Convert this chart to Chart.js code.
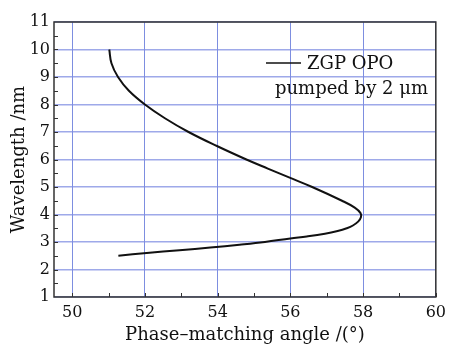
<!DOCTYPE html>
<html>
<head>
<meta charset="utf-8">
<script src="https://cdn.jsdelivr.net/npm/chart.js@4"></script>
<style>
  html, body { margin: 0; padding: 0; background: #fff; }
  #wrap { width: 452px; height: 344px; }
</style>
</head>
<body>
<div id="wrap"><canvas id="chart" width="452" height="344"></canvas></div>
<script>
// Curve: wavelength (nm) vs phase-matching angle (deg)
const wavelengths = [2.5, 2.6, 2.7, 2.8, 2.9, 3.0, 3.13, 3.2, 3.3, 3.4, 3.5, 3.6, 3.75, 3.9, 4.05, 4.25, 4.5, 5.0, 5.34, 5.67, 6.0, 6.49, 7.0, 7.5, 8.0, 8.5, 9.0, 9.5, 10.0];
const angles = [51.27, 52.05, 52.95, 53.8, 54.6, 55.3, 56.0, 56.45, 56.95, 57.3, 57.55, 57.72, 57.87, 57.94, 57.93, 57.77, 57.42, 56.6, 55.98, 55.38, 54.79, 53.98, 53.2, 52.55, 52.0, 51.56, 51.26, 51.08, 51.02];
const xTicks = [50, 52, 54, 56, 58, 60];
const yTicks = [1, 2, 3, 4, 5, 6, 7, 8, 9, 10, 11];
const legendLines = ['ZGP OPO', 'pumped by 2 \u03bcm'];

const serif = '"DejaVu Serif", "Liberation Serif", serif';

const points = wavelengths.map(function(w, i) {
    return { x: angles[i], y: w };
});

// frame, inward ticks and the little legend
const framePlugin = {
    id: 'frame',
    afterDraw: function(chart) {
        const ctx = chart.ctx;
        const a = chart.chartArea;
        const xs = chart.scales.x;
        const ys = chart.scales.y;
        ctx.save();
        ctx.strokeStyle = '#333';
        ctx.lineWidth = 1;
        for (let v = 50; v <= 60; v += 1) {
            const px = Math.round(xs.getPixelForValue(v)) + 0.5;
            ctx.beginPath();
            ctx.moveTo(px, a.bottom);
            ctx.lineTo(px, a.bottom - 4);
            ctx.stroke();
        }
        for (let v = 1.5; v < 11; v += 0.5) {
            const py = Math.round(ys.getPixelForValue(v)) + 0.5;
            ctx.beginPath();
            ctx.moveTo(a.left, py);
            ctx.lineTo(a.left + 4, py);
            ctx.stroke();
        }
        ctx.lineWidth = 1.5;
        ctx.strokeRect(a.left, a.top, a.right - a.left, a.bottom - a.top);

        // legend
        ctx.strokeStyle = '#111';
        ctx.lineWidth = 1.5;
        ctx.beginPath();
        ctx.moveTo(266, 63);
        ctx.lineTo(301, 63);
        ctx.stroke();
        ctx.fillStyle = '#111';
        ctx.font = '18px ' + serif;
        ctx.textBaseline = 'middle';
        ctx.textAlign = 'left';
        ctx.fillText(legendLines[0], 307, 64);
        ctx.fillText(legendLines[1], 275, 89);
        ctx.restore();
    }
};

function draw() {
    new Chart(document.getElementById('chart').getContext('2d'), {
        type: 'scatter',
        data: {
            datasets: [{
                label: legendLines.join(' '),
                data: points,
                showLine: true,
                borderColor: '#111',
                borderWidth: 2,
                pointRadius: 0,
                tension: 0.4,
                fill: false
            }]
        },
        options: {
            responsive: false,
            animation: false,
            layout: { padding: { left: 0, right: 14, top: 22, bottom: 0 } },
            plugins: {
                legend: { display: false },
                tooltip: { enabled: false }
            },
            scales: {
                x: {
                    type: 'linear',
                    position: 'bottom',
                    min: 49.5,
                    max: 60,
                    afterBuildTicks: function(scale) {
                        scale.ticks = xTicks.map(function(v) { return { value: v }; });
                    },
                    afterFit: function(scale) { scale.height = 47; },
                    grid: { color: '#7d8ee0', lineWidth: 1, drawTicks: false },
                    border: { display: false },
                    ticks: {
                        color: '#111',
                        padding: 6,
                        font: { family: serif, size: 16, lineHeight: 1.2 }
                    },
                    title: {
                        display: true,
                        text: 'Phase\u2013matching angle /(\u00b0)',
                        color: '#111',
                        padding: 0,
                        font: { family: serif, size: 18, lineHeight: 1 }
                    }
                },
                y: {
                    type: 'linear',
                    position: 'left',
                    min: 1,
                    max: 11,
                    afterBuildTicks: function(scale) {
                        scale.ticks = yTicks.map(function(v) { return { value: v }; });
                    },
                    afterFit: function(scale) { scale.width = 54; },
                    grid: { color: 'rgba(125,140,225,0.75)', lineWidth: 1.5, drawTicks: false },
                    border: { display: false },
                    ticks: {
                        color: '#111',
                        padding: 4,
                        font: { family: serif, size: 16, lineHeight: 1 }
                    },
                    title: {
                        display: true,
                        text: 'Wavelength /nm',
                        color: '#111',
                        padding: { top: 10, bottom: 0 },
                        font: { family: serif, size: 18, lineHeight: 1 }
                    }
                }
            }
        },
        plugins: [framePlugin]
    });
}

document.fonts.load('16px "DejaVu Serif"').then(draw, draw);
</script>
</body>
</html>
